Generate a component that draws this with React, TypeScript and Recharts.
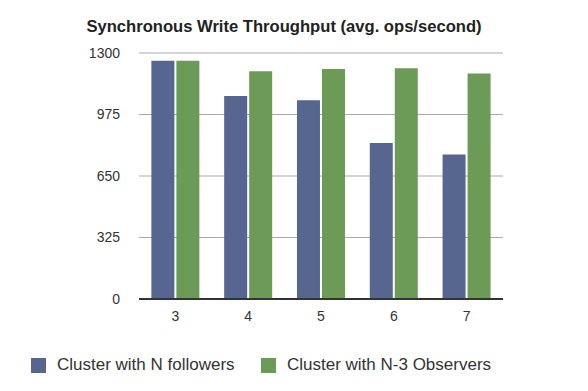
import React from 'react';
import { BarChart, Bar, XAxis, YAxis, CartesianGrid, Legend } from 'recharts';

const categories = ['3', '4', '5', '6', '7'];
const followers = [1259, 1073, 1050, 824, 764];
const observers = [1259, 1204, 1215, 1220, 1192];
const yTicks = [0, 325, 650, 975, 1300];
const seriesNames = ['Cluster with N followers', 'Cluster with N-3 Observers'];
const title = 'Synchronous Write Throughput (avg. ops/second)';

const data = categories.map((c, i) => ({ name: c, followers: followers[i], observers: observers[i] }));

const BLUE = '#56668f';
const GREEN = '#6c9a57';
const FONT = '"Liberation Sans", Arial, Helvetica, sans-serif';

const LegendContent = () => (
  <div style={{ position: 'relative', height: 20, fontFamily: FONT, fontSize: 17, color: '#333' }}>
    <div style={{ position: 'absolute', left: 31, top: 3, width: 15, height: 15, background: BLUE }} />
    <span style={{ position: 'absolute', left: 57, top: 0, whiteSpace: 'nowrap' }}>{seriesNames[0]}</span>
    <div style={{ position: 'absolute', left: 261, top: 3, width: 15, height: 15, background: GREEN }} />
    <span style={{ position: 'absolute', left: 287, top: 0, whiteSpace: 'nowrap' }}>{seriesNames[1]}</span>
  </div>
);

export default function App() {
  return (
    <div style={{ position: 'absolute', left: 0, top: 0, width: 588, height: 391, background: '#fff' }}>
      <div
        style={{
          position: 'absolute',
          left: 0,
          width: 568,
          top: 17,
          textAlign: 'center',
          fontFamily: FONT,
          fontWeight: 'bold',
          fontSize: 16.6,
          color: '#222',
          whiteSpace: 'nowrap',
        }}
      >
        {title}
      </div>
      <BarChart
        width={588}
        height={391}
        data={data}
        margin={{ top: 53, right: 85, bottom: 40, left: 0 }}
        barCategoryGap="17%"
        barGap={2}
      >
        <CartesianGrid vertical={false} stroke="#aaa" strokeWidth={1} />
        <XAxis
          dataKey="name"
          tickLine={false}
          axisLine={{ stroke: '#333', strokeWidth: 2 }}
          tick={{ fill: '#333', fontSize: 14, fontFamily: FONT }}
          tickMargin={6}
        />
        <YAxis
          width={139}
          domain={[0, 1300]}
          ticks={yTicks}
          tickLine={false}
          axisLine={false}
          tick={{ fill: '#333', fontSize: 14, fontFamily: FONT }}
          tickMargin={13}
          interval={0}
        />
        <Legend
          content={<LegendContent />}
          verticalAlign="bottom"
          wrapperStyle={{ position: 'absolute', left: 0, top: 355, width: 588, height: 22 }}
        />
        <Bar dataKey="followers" name={seriesNames[0]} fill={BLUE} isAnimationActive={false} />
        <Bar dataKey="observers" name={seriesNames[1]} fill={GREEN} isAnimationActive={false} />
      </BarChart>
    </div>
  );
}
